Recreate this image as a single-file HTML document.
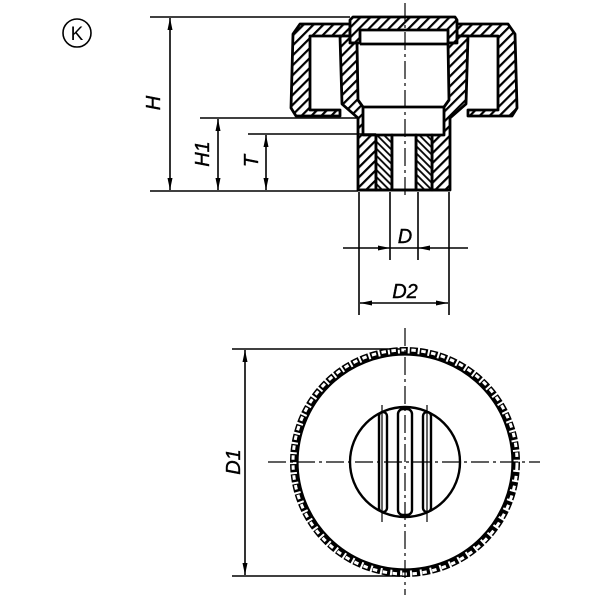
<!DOCTYPE html>
<html><head><style>html,body{margin:0;padding:0;background:#fff}svg{display:block}</style></head>
<body>
<svg width="600" height="600" viewBox="0 0 600 600" xmlns="http://www.w3.org/2000/svg" font-family="Liberation Sans, sans-serif">
<defs>
<pattern id="h" width="7" height="7" patternUnits="userSpaceOnUse" patternTransform="rotate(45)">
<rect width="7" height="7" fill="#fff"/><line x1="1" y1="0" x2="1" y2="7" stroke="#000" stroke-width="2.4"/></pattern>
<pattern id="h2" width="5" height="5" patternUnits="userSpaceOnUse" patternTransform="rotate(-45)">
<rect width="5" height="5" fill="#fff"/><line x1="1" y1="0" x2="1" y2="5" stroke="#000" stroke-width="1.8"/></pattern>
<marker id="a" viewBox="0 0 12 5" refX="12" refY="2.5" markerWidth="12" markerHeight="5" orient="auto-start-reverse" markerUnits="userSpaceOnUse"><path d="M0,0L12,2.5L0,5z"/></marker>
</defs>
<circle cx="77" cy="33" r="14" fill="none" stroke="#000" stroke-width="1.6"/>
<text x="77" y="40" font-size="19" text-anchor="middle">K</text>

<g stroke="#000" stroke-width="2.8" stroke-linejoin="round">
<path d="M293,34 L300,24 L350,24 L350,36 L310,36 L310,110 L340,110 L340,116 L296,116 L291,108 Z" fill="url(#h)"/>
<path d="M515,34 L508,24 L457,24 L457,36 L498,36 L498,110 L468,110 L468,116 L512,116 L517,108 Z" fill="url(#h)"/>
<path d="M350,20 L353,17 L455,17 L457,20 L457,43 L448,43 L448,30 L360,30 L360,43 L350,43 Z" fill="url(#h)"/>
<path d="M340,36 L350,36 L350,43 L357,43 L358,100 L363,107 L363,135 L376,135 L376,190 L358,190 L358,118 L342,104 L340,36 Z" fill="url(#h)"/>
<path d="M468,36 L457,36 L457,43 L448,43 L449,100 L444,107 L444,135 L432,135 L432,190 L450,190 L450,118 L466,104 L468,36 Z" fill="url(#h)"/>
<rect x="376" y="135" width="16" height="55" fill="url(#h2)"/>
<rect x="416" y="135" width="16" height="55" fill="url(#h2)"/>
<rect x="392" y="135" width="24" height="55" fill="#fff"/>
<line x1="360" y1="44" x2="448" y2="44"/>
<line x1="363" y1="107" x2="444" y2="107"/>
<line x1="358" y1="190" x2="450" y2="190"/>
</g>
<line x1="405" y1="3" x2="405" y2="195" stroke="#000" stroke-width="1.2" stroke-dasharray="18 4 3 4"/>

<g stroke="#000" stroke-width="1.6" fill="none">
<line x1="150" y1="17" x2="350" y2="17"/>
<line x1="200" y1="118" x2="358" y2="118"/>
<line x1="248" y1="134" x2="376" y2="134"/>
<line x1="150" y1="191" x2="358" y2="191"/>
<line x1="170" y1="18" x2="170" y2="190" marker-start="url(#a)" marker-end="url(#a)"/>
<line x1="218" y1="119" x2="218" y2="190" marker-start="url(#a)" marker-end="url(#a)"/>
<line x1="266" y1="135" x2="266" y2="190" marker-start="url(#a)" marker-end="url(#a)"/>
<line x1="359" y1="192" x2="359" y2="315"/>
<line x1="449" y1="192" x2="449" y2="315"/>
<line x1="390" y1="192" x2="390" y2="260"/>
<line x1="418" y1="192" x2="418" y2="260"/>
<line x1="343" y1="248" x2="390" y2="248" marker-end="url(#a)"/>
<line x1="468" y1="248" x2="418" y2="248" marker-end="url(#a)"/>
<line x1="390" y1="248" x2="418" y2="248"/>
<line x1="360" y1="303" x2="448" y2="303" marker-start="url(#a)" marker-end="url(#a)"/>
</g>
<g font-size="20" font-style="italic" stroke="#000" stroke-width="0.4">
<text transform="translate(160,103) rotate(-90)" text-anchor="middle">H</text>
<text transform="translate(209,154) rotate(-90)" text-anchor="middle">H1</text>
<text transform="translate(258,161) rotate(-90)" text-anchor="middle">T</text>
<text x="405" y="243" text-anchor="middle">D</text>
<text x="405" y="298" text-anchor="middle">D2</text>
<text transform="translate(240,462) rotate(-90)" text-anchor="middle">D1</text>
</g>

<g stroke="#000" fill="none">
<line x1="232" y1="349" x2="405" y2="349" stroke-width="1.6"/>
<line x1="232" y1="576" x2="405" y2="576" stroke-width="1.6"/>
<line x1="245" y1="350" x2="245" y2="575" stroke-width="1.6" marker-start="url(#a)" marker-end="url(#a)"/>
<circle cx="405" cy="462" r="111.5" stroke-width="7" stroke-dasharray="8 2"/>
<circle cx="405" cy="462" r="112" stroke="#fff" stroke-width="3" stroke-dasharray="4.5 5.5" transform="rotate(2 405 462)"/>
<circle cx="405" cy="462" r="107.5" stroke-width="2.2"/>
<circle cx="405" cy="462" r="55" stroke-width="2.4"/>
<g stroke-width="2.4">
<rect x="379" y="412" width="8" height="100" rx="4"/>
<rect x="398" y="409" width="14" height="106" rx="5"/>
<rect x="423" y="412" width="8" height="100" rx="4"/>
</g>
<line x1="382" y1="405" x2="382" y2="522" stroke-width="1.2"/>
<line x1="427" y1="405" x2="427" y2="522" stroke-width="1.2"/>
<line x1="268" y1="462" x2="540" y2="462" stroke-width="1.2" stroke-dasharray="18 4 3 4"/>
<line x1="405" y1="328" x2="405" y2="595" stroke-width="1.2" stroke-dasharray="18 4 3 4"/>
</g>
</svg>
</body></html>
